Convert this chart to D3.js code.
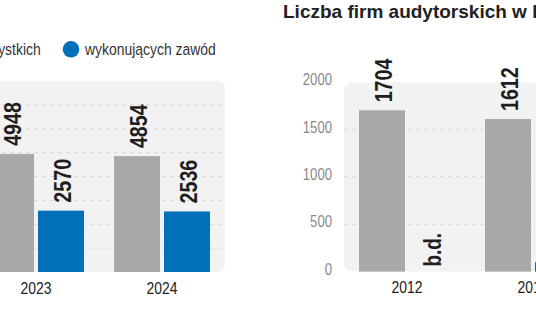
<!DOCTYPE html>
<html lang="pl">
<head>
<meta charset="utf-8">
<script src="https://cdn.jsdelivr.net/npm/d3@7"></script>
<style>
  html, body { margin: 0; padding: 0; background: #fff; }
  svg { display: block; }
</style>
</head>
<body>
<svg id="chart" width="536" height="332"></svg>
<script>
// Biegli rewidenci: wszyscy vs. wykonujący zawód
const auditorYears = ['2023', '2024'];
const auditorsAll = [4948, 4854];
const auditorsActive = [2570, 2536];
const auditorTicks = [1000, 2000, 3000, 4000, 5000, 6000, 7000];

// Firmy audytorskie (null = brak danych)
const firmYears = ['2012', '2016'];
const firmsAll = [1704, 1612];
const firmsActive = [null, 100];
const firmTicks = [0, 500, 1000, 1500, 2000];

const seriesNames = ['wszystkich', 'wykonujących zawód'];
const seriesKeys = ['all', 'active'];
const colors = { all: '#a8a8aa', active: '#0071b9' };

const title = 'Liczba firm audytorskich w Polsce';

const svg = d3.select('#chart');
const SANS = "'Liberation Sans', Arial, sans-serif";
// narrow look: regular sans squeezed horizontally
const SQUEEZE = 0.82;

// ---------- legend ----------
const legend = svg.append('g');
const legendItems = [
  { key: 'all', name: seriesNames[0], cx: -40, textEnd: 40.7 },
  { key: 'active', name: seriesNames[1], cx: 71 }
];
legendItems.forEach(d => {
  legend.append('circle')
    .attr('cx', d.cx).attr('cy', 49.3).attr('r', 8.3)
    .attr('fill', colors[d.key]);
  const tx = d.textEnd !== undefined ? d.textEnd : d.cx + 14;
  legend.append('text')
    .attr('transform', `translate(${tx},55) scale(${SQUEEZE},1)`)
    .attr('text-anchor', d.textEnd !== undefined ? 'end' : 'start')
    .attr('font-family', SANS)
    .attr('font-size', 17)
    .attr('fill', '#333')
    .text(d.name);
});

// ---------- title of the firms chart ----------
svg.append('text')
  .attr('x', 283).attr('y', 18.3)
  .attr('font-family', SANS)
  .attr('font-weight', 'bold')
  .attr('font-size', 19)
  .attr('fill', '#222')
  .text(title);

// ---------- generic grouped bar panel ----------
function drawPanel(opts) {
  const g = svg.append('g');
  const { x, y, panel, ticks, years, series, showTickLabels, tickX } = opts;

  g.append('rect')
    .attr('x', panel.x0).attr('y', panel.y0)
    .attr('width', panel.x1 - panel.x0).attr('height', panel.y1 - panel.y0)
    .attr('rx', 8).attr('ry', 8)
    .attr('fill', '#f2f2f2');

  // dashed gridlines
  g.append('g').selectAll('line')
    .data(ticks.filter(t => t > 0 && y(t) > panel.y0 + 1))
    .join('line')
    .attr('x1', panel.x0).attr('x2', panel.x1)
    .attr('y1', d => y(d)).attr('y2', d => y(d))
    .attr('stroke', '#d9d9d9').attr('stroke-width', 1)
    .attr('stroke-dasharray', '4,4');

  if (showTickLabels) {
    const axis = d3.axisLeft(y).tickValues(ticks).tickFormat(d3.format('d'))
      .tickSize(0).tickPadding(0);
    const ax = g.append('g')
      .attr('transform', `translate(${tickX},0)`)
      .call(axis);
    ax.select('.domain').remove();
    ax.selectAll('text')
      .attr('font-family', SANS)
      .attr('font-size', 16)
      .attr('fill', '#8a8a8a')
      .attr('dy', null)
      .attr('x', 0)
      .attr('y', 0)
      .attr('transform', `translate(0,2.5) scale(${SQUEEZE},1)`);
  }

  const inner = d3.scaleBand().domain(seriesKeys).range([0, x.bandwidth()]).paddingInner(0.08);

  const rows = [];
  years.forEach((yr, i) => {
    seriesKeys.forEach(k => rows.push({ year: yr, key: k, value: series[k][i] }));
  });

  const groups = g.append('g').selectAll('g')
    .data(rows)
    .join('g')
    .attr('transform', d => `translate(${x(d.year) + inner(d.key)},0)`);

  groups.filter(d => d.value != null)
    .append('rect')
    .attr('x', 0).attr('width', inner.bandwidth())
    .attr('y', d => y(d.value))
    .attr('height', d => y(0) - y(d.value))
    .attr('fill', d => colors[d.key]);

  // rotated value labels
  groups.append('text')
    .attr('transform', d => {
      const top = d.value != null ? y(d.value) - 8 : y(0) - 5;
      return `translate(${inner.bandwidth() / 2 + 1},${top}) rotate(-90) scale(${SQUEEZE},1)`;
    })
    .attr('dy', '0.36em')
    .attr('font-family', SANS)
    .attr('font-weight', 'bold')
    .attr('font-size', d => d.value != null ? 24 : 23)
    .attr('fill', '#1e1e1e')
    .text(d => d.value != null ? d.value : 'b.d.');

  // year labels
  const xAxis = d3.axisBottom(x).tickSize(0).tickPadding(0);
  const xa = g.append('g')
    .attr('transform', `translate(0,${y(0)})`)
    .call(xAxis);
  xa.select('.domain').remove();
  xa.selectAll('text')
    .attr('font-family', SANS)
    .attr('font-size', 17)
    .attr('fill', '#222')
    .attr('dy', null)
    .attr('y', 0)
    .attr('transform', `translate(0,21.7) scale(${SQUEEZE},1)`);
}

// left panel: auditors
const xLeft = d3.scaleBand().domain(auditorYears).range([-27, 225])
  .paddingInner(30 / 126).paddingOuter(15 / 126);
const yLeft = d3.scaleLinear().domain([0, 8000]).range([272, 81]);
drawPanel({
  x: xLeft, y: yLeft,
  panel: { x0: -30, x1: 225, y0: 81, y1: 272 },
  ticks: auditorTicks, years: auditorYears,
  series: { all: auditorsAll, active: auditorsActive },
  showTickLabels: false
});

// right panel: audit firms
const xRight = d3.scaleBand().domain(firmYears).range([344, 596])
  .paddingInner(30 / 126).paddingOuter(15 / 126);
const yRight = d3.scaleLinear().domain([0, 2000]).range([271.6, 82.3]);
drawPanel({
  x: xRight, y: yRight,
  panel: { x0: 344, x1: 720, y0: 82.3, y1: 271.6 },
  ticks: firmTicks, years: firmYears,
  series: { all: firmsAll, active: firmsActive },
  showTickLabels: true, tickX: 332
});
</script>
</body>
</html>
